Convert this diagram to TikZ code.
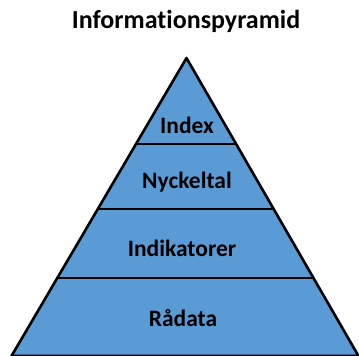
\documentclass[tikz,border=0pt]{standalone}
\usepackage{fontspec}
\setmainfont[Ligatures=NoCommon]{Carlito}
\usetikzlibrary{calc}
\definecolor{pyrblue}{HTML}{5B9BD5}
\tikzset{
  level/.style={font=\bfseries\fontsize{23.5}{26}\selectfont, text=black, inner sep=0pt},
  divider/.style={line width=2.8pt, black},
}
\begin{document}
\begin{tikzpicture}[x=1pt, y=-1pt, line join=round, line cap=butt]
  \useasboundingbox (0,0) rectangle (359,356);
  % triangle corners
  \coordinate (T) at (186.5,58);
  \coordinate (BL) at (11.5,356);
  \coordinate (BR) at (358.5,356);

  % pyramid body
  \filldraw[fill=pyrblue, draw=black, line width=2.6pt] (BL) -- (T) -- (BR) -- cycle;

  % level dividers, cut at the sloped sides
  \draw[divider] ($(T)!0.2886!(BL)$) -- ($(T)!0.2886!(BR)$);
  \draw[divider] ($(T)!0.5067!(BL)$) -- ($(T)!0.5067!(BR)$);
  \draw[divider] ($(T)!0.7383!(BL)$) -- ($(T)!0.7383!(BR)$);

  % title and level texts
  \node[level, font=\bfseries\fontsize{26}{30}\selectfont] (title) at (186,21) {Informationspyramid};
  \node[level] (index) at (187,125) {Index};
  \node[level] (nyckeltal) at (187,182) {Nyckeltal};
  \node[level] (indikatorer) at (182,248) {Indikatorer};
  \node[level] (radata) at (183,318) {Rådata};
\end{tikzpicture}
\end{document}
